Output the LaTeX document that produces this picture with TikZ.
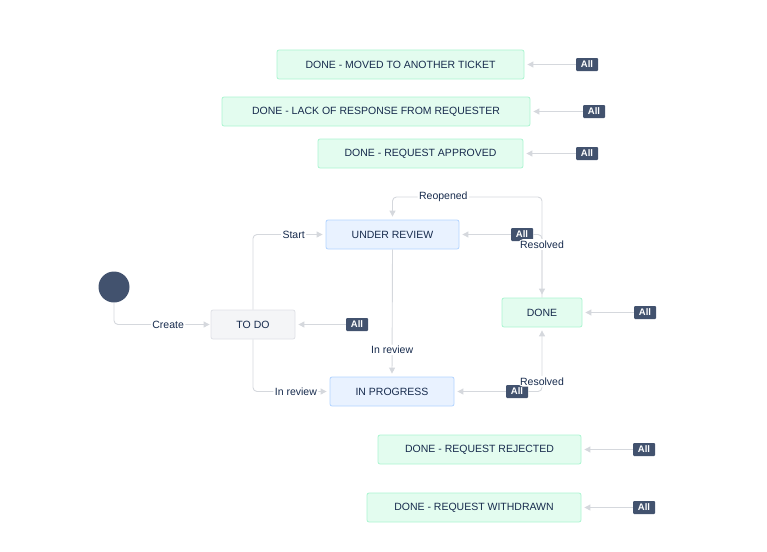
\documentclass[tikz,border=0pt]{standalone}
\usepackage{fontspec}
\setmainfont{Liberation Sans}
\usetikzlibrary{arrows.meta}
\definecolor{txt}{HTML}{172B4D}
\definecolor{gfill}{HTML}{E3FCEF}
\definecolor{gline}{HTML}{ABF5D1}
\definecolor{bfill}{HTML}{E9F2FF}
\definecolor{bline}{HTML}{B3D4FF}
\definecolor{tfill}{HTML}{F4F5F7}
\definecolor{tline}{HTML}{DFE1E6}
\definecolor{dark}{HTML}{42526E}
\definecolor{edge}{HTML}{D5D8DD}
\tikzset{
 st/.style={draw, rounded corners=2pt, minimum height=29pt, text=txt, font=\fontsize{10.5}{12}\selectfont, line width=0.8pt, inner sep=0pt},
 green/.style={st, fill=gfill, draw=gline},
 blue/.style={st, fill=bfill, draw=bline},
 grey/.style={st, fill=tfill, draw=tline},
 badge/.style={fill=dark, text=white, font=\bfseries\fontsize{9.5}{10}\selectfont, rounded corners=1pt, minimum width=22pt, minimum height=13pt, inner sep=1pt},
 conn/.style={draw=edge, line width=0.9pt, rounded corners=4pt, -{Triangle[length=6pt,width=6pt]}},
 lbl/.style={fill=white, text=txt, font=\fontsize{10.5}{12}\selectfont, inner sep=1.5pt},
}
\begin{document}
\begin{tikzpicture}[x=1pt,y=-1pt]
\useasboundingbox (0,0) rectangle (767,551);
\node[green, minimum width=247pt] (m) at (400.5,64.5) {DONE - MOVED TO ANOTHER TICKET};
\node[green, minimum width=308pt] (l) at (376,111.5) {DONE - LACK OF RESPONSE FROM REQUESTER};
\node[green, minimum width=205pt] (a) at (420.5,153.5) {DONE - REQUEST APPROVED};
\node[blue, minimum width=133pt] (ur) at (392.5,234.5) {UNDER REVIEW};
\node[grey, minimum width=84pt] (td) at (253,324.5) {TO DO};
\node[green, minimum width=80pt] (d) at (542,312.5) {DONE};
\node[blue, minimum width=124pt] (ip) at (392,391.5) {IN PROGRESS};
\node[green, minimum width=203pt] (rj) at (479.5,449.5) {DONE - REQUEST REJECTED};
\node[green, minimum width=214pt] (wd) at (474,507.5) {DONE - REQUEST WITHDRAWN};
\node[circle, fill=dark, minimum size=31pt, inner sep=0pt] (s) at (114,287) {};
\node[badge] (b1) at (587,64.5) {All};
\node[badge] (b2) at (594,111.5) {All};
\node[badge] (b3) at (587,153.5) {All};
\node[badge] (b4) at (522,234.5) {All};
\node[badge] (b5) at (357,324.5) {All};
\node[badge] (b6) at (645,312.5) {All};
\node[badge] (b7) at (517,391.5) {All};
\node[badge] (b8) at (644,449.5) {All};
\node[badge] (b9) at (644,507.5) {All};
\foreach \b/\n in {b1/m,b2/l,b3/a,b4/ur,b5/td,b6/d,b7/ip,b8/rj,b9/wd}
  \draw[conn, shorten >=3pt] (\b.west) -- (\n.east);
\draw[conn, shorten >=1pt] (s.south) |- node[lbl, pos=0.78] {Create} (td.west);
\draw[conn, shorten >=3pt] (td.north) |- node[lbl, pos=0.78] {Start} (ur.west);
\draw[conn, shorten >=3pt] (td.south) |- node[lbl, pos=0.78] {In review} (ip.west);
\draw[conn, shorten >=3pt] (ur.south) -- node[lbl, pos=0.79] {In review} (ip.north);
\coordinate (tr) at (542,197);
\draw[conn, shorten >=3pt] (d.north) -- (tr) -| node[lbl, pos=0.33] {Reopened} (ur.north);
\draw[conn, shorten >=3pt] (b4.east) -| node[lbl, pos=0.58] {Resolved} (d.north);
\draw[conn, shorten >=3pt] (b7.east) -| node[lbl, pos=0.58] {Resolved} (d.south);
\end{tikzpicture}
\end{document}
